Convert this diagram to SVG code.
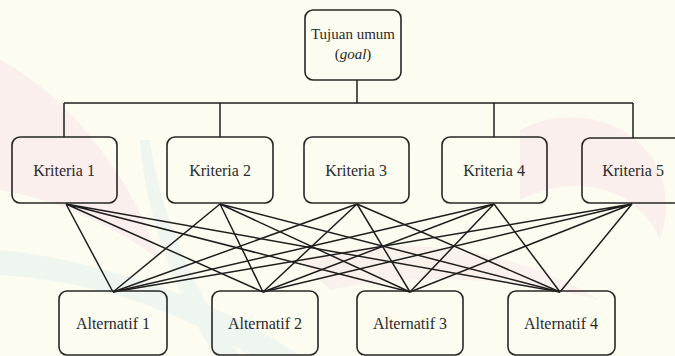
<svg xmlns="http://www.w3.org/2000/svg" width="675" height="356" viewBox="0 0 675 356">
<style>
.box{fill:none;stroke:#262626;stroke-width:1.6}
.ln{stroke:#1e1e1e;stroke-width:1.5;fill:none}
.t{font-family:"Liberation Serif","Times New Roman",serif;font-size:16px;fill:#2a2a2a;text-anchor:middle}
.g{font-size:15px}
</style>
<rect width="675" height="356" fill="#fdfcf1"/>
<g id="watermark" opacity="0.35">
<path d="M0,60 C60,90 130,170 160,260 C120,230 60,200 0,190 Z" fill="#f9d9e6"/>
<path d="M520,130 C600,90 690,150 660,240 C640,190 580,170 520,200 Z" fill="#f9d9e6"/>
<path d="M150,140 C160,220 200,300 240,356 L215,356 C180,300 145,220 140,140 Z" fill="#d6ecef"/>
<path d="M0,250 C100,260 220,300 300,356 L250,356 C180,310 90,280 0,275 Z" fill="#d6ecef"/>
<path d="M300,260 C400,230 520,250 600,300 C520,280 420,270 330,290 Z" fill="#f6dde8"/>
</g>
<g id="connectors">
<path class="ln" d="M357,80 V103 M64,103 H633 M64,103 V137 M220,103 V137 M494,103 V137 M633,103 V138"/>
<g id="edges">
<path class="ln" d="M66,204 L113,292 M66,204 L263,292 M66,204 L410,292 M66,204 L560,292"/>
<path class="ln" d="M220,204 L113,292 M220,204 L263,292 M220,204 L410,292 M220,204 L560,292"/>
<path class="ln" d="M357,204 L113,292 M357,204 L263,292 M357,204 L410,292 M357,204 L560,292"/>
<path class="ln" d="M494,204 L113,292 M494,204 L263,292 M494,204 L410,292 M494,204 L560,292"/>
<path class="ln" d="M632,204 L113,292 M632,204 L263,292 M632,204 L410,292 M632,204 L560,292"/>
</g>
</g>
<g id="goal">
<rect class="box" x="305" y="10" width="96" height="70" rx="8"/>
<text class="t g" x="353" y="39">Tujuan umum</text>
<text class="t g" x="353" y="59">(<tspan font-style="italic">goal</tspan>)</text>
</g>
<g id="k1"><rect class="box" x="12" y="137" width="105" height="66" rx="8"/><text class="t" x="64" y="176">Kriteria 1</text></g>
<g id="k2"><rect class="box" x="167" y="137" width="106" height="66" rx="8"/><text class="t" x="220" y="176">Kriteria 2</text></g>
<g id="k3"><rect class="box" x="304" y="137" width="105" height="66" rx="8"/><text class="t" x="356" y="176">Kriteria 3</text></g>
<g id="k4"><rect class="box" x="442" y="137" width="105" height="66" rx="8"/><text class="t" x="494" y="176">Kriteria 4</text></g>
<g id="k5"><rect class="box" x="582" y="138" width="105" height="65" rx="8"/><text class="t" x="633" y="176">Kriteria 5</text></g>
<g id="a1"><rect class="box" x="59" y="291" width="108" height="64" rx="8"/><text class="t" x="113" y="329">Alternatif 1</text></g>
<g id="a2"><rect class="box" x="212" y="291" width="106" height="64" rx="8"/><text class="t" x="265" y="329">Alternatif 2</text></g>
<g id="a3"><rect class="box" x="357" y="291" width="106" height="64" rx="8"/><text class="t" x="410" y="329">Alternatif 3</text></g>
<g id="a4"><rect class="box" x="508" y="291" width="107" height="64" rx="8"/><text class="t" x="561" y="329">Alternatif 4</text></g>
</svg>
